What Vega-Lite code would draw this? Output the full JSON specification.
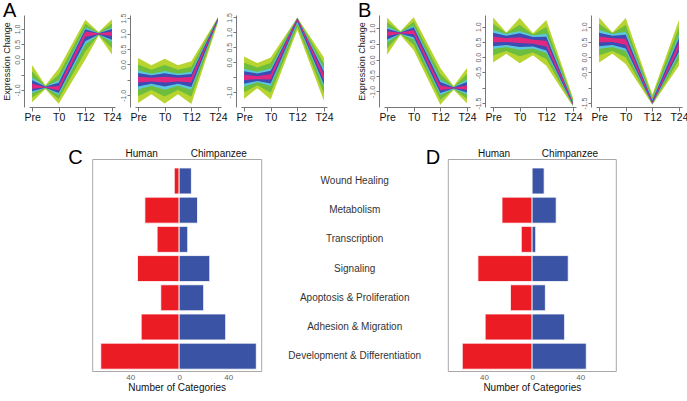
{
"$schema":"https://vega.github.io/schema/vega-lite/v6.json",
"padding":{"left":2,"top":1,"right":0,"bottom":0},
"background":"white",
"config":{"font":"Liberation Sans","view":{"stroke":null},"axis":{"grid":false}},
"datasets":{
"bands":[
{"p":"A1","t":1,"o1":-1.40,"o2":-0.18,"g1":-1.25,"g2":-0.39,"c1":-1.10,"c2":-0.59,"b1":-1.04,"b2":-0.68,"m1":-0.96,"m2":-0.80},
{"p":"A1","t":2,"o1":-0.97,"o2":-0.85,"g1":-0.95,"g2":-0.87,"c1":-0.94,"c2":-0.88,"b1":-0.93,"b2":-0.89,"m1":-0.92,"m2":-0.90},
{"p":"A1","t":3,"o1":-1.45,"o2":-0.30,"g1":-1.30,"g2":-0.50,"c1":-1.16,"c2":-0.68,"b1":-1.10,"b2":-0.76,"m1":-1.02,"m2":-0.87},
{"p":"A1","t":5,"o1":0.00,"o2":1.30,"g1":0.26,"g2":1.17,"c1":0.50,"c2":1.05,"b1":0.60,"b2":0.99,"m1":0.75,"m2":0.92},
{"p":"A1","t":6,"o1":0.78,"o2":0.90,"g1":0.80,"g2":0.88,"c1":0.81,"c2":0.87,"b1":0.82,"b2":0.86,"m1":0.83,"m2":0.85},
{"p":"A1","t":7,"o1":0.16,"o2":1.32,"g1":0.37,"g2":1.18,"c1":0.57,"c2":1.05,"b1":0.65,"b2":1.00,"m1":0.77,"m2":0.92},
{"p":"A2","t":1,"o1":-1.25,"o2":0.21,"g1":-1.02,"g2":0.00,"c1":-0.81,"c2":-0.20,"b1":-0.72,"b2":-0.28,"m1":-0.59,"m2":-0.40},
{"p":"A2","t":2,"o1":-0.97,"o2":-0.03,"g1":-0.83,"g2":-0.17,"c1":-0.69,"c2":-0.30,"b1":-0.63,"b2":-0.35,"m1":-0.55,"m2":-0.43},
{"p":"A2","t":3,"o1":-1.27,"o2":0.18,"g1":-1.04,"g2":-0.02,"c1":-0.82,"c2":-0.21,"b1":-0.72,"b2":-0.29,"m1":-0.59,"m2":-0.40},
{"p":"A2","t":4,"o1":-0.97,"o2":-0.03,"g1":-0.83,"g2":-0.17,"c1":-0.69,"c2":-0.30,"b1":-0.63,"b2":-0.35,"m1":-0.55,"m2":-0.43},
{"p":"A2","t":5,"o1":-1.28,"o2":0.10,"g1":-1.04,"g2":-0.08,"c1":-0.82,"c2":-0.24,"b1":-0.73,"b2":-0.31,"m1":-0.59,"m2":-0.41},
{"p":"A2","t":7,"o1":1.35,"o2":1.53,"g1":1.39,"g2":1.52,"c1":1.43,"c2":1.50,"b1":1.44,"b2":1.50,"m1":1.46,"m2":1.49},
{"p":"A3","t":1,"o1":-1.22,"o2":0.19,"g1":-1.01,"g2":-0.02,"c1":-0.81,"c2":-0.22,"b1":-0.72,"b2":-0.30,"m1":-0.60,"m2":-0.42},
{"p":"A3","t":2,"o1":-0.87,"o2":-0.03,"g1":-0.77,"g2":-0.18,"c1":-0.67,"c2":-0.32,"b1":-0.63,"b2":-0.38,"m1":-0.57,"m2":-0.47},
{"p":"A3","t":3,"o1":-1.25,"o2":0.16,"g1":-1.02,"g2":-0.03,"c1":-0.80,"c2":-0.21,"b1":-0.71,"b2":-0.29,"m1":-0.58,"m2":-0.40},
{"p":"A3","t":5,"o1":1.08,"o2":1.50,"g1":1.19,"g2":1.49,"c1":1.30,"c2":1.48,"b1":1.35,"b2":1.47,"m1":1.41,"m2":1.47},
{"p":"A3","t":7,"o1":-1.30,"o2":0.16,"g1":-1.06,"g2":-0.04,"c1":-0.84,"c2":-0.23,"b1":-0.75,"b2":-0.31,"m1":-0.61,"m2":-0.42},
{"p":"B1","t":1,"o1":0.16,"o2":1.32,"g1":0.36,"g2":1.18,"c1":0.55,"c2":1.04,"b1":0.64,"b2":0.98,"m1":0.75,"m2":0.90},
{"p":"B1","t":2,"o1":0.78,"o2":0.90,"g1":0.80,"g2":0.88,"c1":0.81,"c2":0.87,"b1":0.82,"b2":0.86,"m1":0.83,"m2":0.85},
{"p":"B1","t":3,"o1":0.30,"o2":1.34,"g1":0.47,"g2":1.20,"c1":0.64,"c2":1.07,"b1":0.71,"b2":1.02,"m1":0.80,"m2":0.94},
{"p":"B1","t":5,"o1":-1.42,"o2":-0.26,"g1":-1.26,"g2":-0.45,"c1":-1.11,"c2":-0.63,"b1":-1.05,"b2":-0.70,"m1":-0.96,"m2":-0.81},
{"p":"B1","t":6,"o1":-0.95,"o2":-0.83,"g1":-0.93,"g2":-0.85,"c1":-0.92,"c2":-0.86,"b1":-0.91,"b2":-0.87,"m1":-0.90,"m2":-0.88},
{"p":"B1","t":7,"o1":-1.37,"o2":-0.26,"g1":-1.23,"g2":-0.45,"c1":-1.09,"c2":-0.63,"b1":-1.03,"b2":-0.70,"m1":-0.95,"m2":-0.81},
{"p":"B2","t":1,"o1":-0.17,"o2":1.30,"g1":0.06,"g2":1.09,"c1":0.27,"c2":0.89,"b1":0.36,"b2":0.80,"m1":0.49,"m2":0.68},
{"p":"B2","t":2,"o1":0.11,"o2":0.81,"g1":0.20,"g2":0.79,"c1":0.33,"c2":0.76,"b1":0.40,"b2":0.70,"m1":0.50,"m2":0.62},
{"p":"B2","t":3,"o1":-0.20,"o2":1.28,"g1":0.03,"g2":1.06,"c1":0.24,"c2":0.86,"b1":0.33,"b2":0.78,"m1":0.46,"m2":0.65},
{"p":"B2","t":4,"o1":0.06,"o2":0.78,"g1":0.15,"g2":0.74,"c1":0.28,"c2":0.71,"b1":0.35,"b2":0.66,"m1":0.44,"m2":0.57},
{"p":"B2","t":5,"o1":-0.28,"o2":1.22,"g1":-0.06,"g2":0.99,"c1":0.14,"c2":0.77,"b1":0.22,"b2":0.67,"m1":0.35,"m2":0.54},
{"p":"B2","t":7,"o1":-1.61,"o2":-1.33,"g1":-1.59,"g2":-1.39,"c1":-1.57,"c2":-1.45,"b1":-1.56,"b2":-1.48,"m1":-1.55,"m2":-1.51},
{"p":"B3","t":1,"o1":-0.17,"o2":1.30,"g1":0.06,"g2":1.09,"c1":0.27,"c2":0.89,"b1":0.36,"b2":0.80,"m1":0.49,"m2":0.68},
{"p":"B3","t":2,"o1":0.11,"o2":0.81,"g1":0.20,"g2":0.79,"c1":0.33,"c2":0.76,"b1":0.40,"b2":0.70,"m1":0.50,"m2":0.62},
{"p":"B3","t":3,"o1":-0.22,"o2":1.28,"g1":0.00,"g2":1.05,"c1":0.20,"c2":0.83,"b1":0.28,"b2":0.73,"m1":0.41,"m2":0.60},
{"p":"B3","t":5,"o1":-1.56,"o2":-1.22,"g1":-1.54,"g2":-1.30,"c1":-1.53,"c2":-1.38,"b1":-1.52,"b2":-1.42,"m1":-1.51,"m2":-1.46},
{"p":"B3","t":7,"o1":-0.28,"o2":1.22,"g1":-0.09,"g2":0.97,"c1":0.10,"c2":0.73,"b1":0.18,"b2":0.63,"m1":0.29,"m2":0.48}
],
"cats":[
{"panel":"C","category":"Wound Healing","species":"Human","value":-4},
{"panel":"C","category":"Wound Healing","species":"Chimpanzee","value":10},
{"panel":"C","category":"Metabolism","species":"Human","value":-28},
{"panel":"C","category":"Metabolism","species":"Chimpanzee","value":15},
{"panel":"C","category":"Transcription","species":"Human","value":-18},
{"panel":"C","category":"Transcription","species":"Chimpanzee","value":7},
{"panel":"C","category":"Signaling","species":"Human","value":-34},
{"panel":"C","category":"Signaling","species":"Chimpanzee","value":25},
{"panel":"C","category":"Apoptosis & Proliferation","species":"Human","value":-15},
{"panel":"C","category":"Apoptosis & Proliferation","species":"Chimpanzee","value":20},
{"panel":"C","category":"Adhesion & Migration","species":"Human","value":-31},
{"panel":"C","category":"Adhesion & Migration","species":"Chimpanzee","value":38},
{"panel":"C","category":"Development & Differentiation","species":"Human","value":-64},
{"panel":"C","category":"Development & Differentiation","species":"Chimpanzee","value":63},
{"panel":"D","category":"Wound Healing","species":"Human","value":0},
{"panel":"D","category":"Wound Healing","species":"Chimpanzee","value":10},
{"panel":"D","category":"Metabolism","species":"Human","value":-25},
{"panel":"D","category":"Metabolism","species":"Chimpanzee","value":20},
{"panel":"D","category":"Transcription","species":"Human","value":-9},
{"panel":"D","category":"Transcription","species":"Chimpanzee","value":3},
{"panel":"D","category":"Signaling","species":"Human","value":-45},
{"panel":"D","category":"Signaling","species":"Chimpanzee","value":30},
{"panel":"D","category":"Apoptosis & Proliferation","species":"Human","value":-18},
{"panel":"D","category":"Apoptosis & Proliferation","species":"Chimpanzee","value":11},
{"panel":"D","category":"Adhesion & Migration","species":"Human","value":-39},
{"panel":"D","category":"Adhesion & Migration","species":"Chimpanzee","value":27},
{"panel":"D","category":"Development & Differentiation","species":"Human","value":-58},
{"panel":"D","category":"Development & Differentiation","species":"Chimpanzee","value":45}
]
},
"vconcat":[
{"hconcat":[
{"width":86,"height":92,
"title":{"text":"A","anchor":"start","frame":"group","fontSize":20,"fontWeight":"normal","color":"#000","dx":-26,"offset":-6},
"data":{"name":"bands"},"transform":[{"filter":"datum.p==='A1'"}],
"encoding":{"x":{"field":"t","type":"quantitative","scale":{"domain":[0.77,7.23],"nice":false,"zero":false},"axis":{"values":[1,3,5,7],"labelExpr":"datum.value==1?'Pre':datum.value==3?'T0':datum.value==5?'T12':'T24'","title":null,"labelFontSize":10.5,"labelColor":"#111","tickSize":4,"tickColor":"#777","domainColor":"#777","labelPadding":1,"labelFlush":false,"labelOverlap":false}}},
"layer":[
{"mark":{"type":"area","color":"#b8d430"},"encoding":{"y":{"field":"o1","type":"quantitative","scale":{"domain":[-1.56,1.46],"nice":false,"zero":false},"axis":{"values":[-1,-0.5,0,0.5,1],"labelExpr":"datum.value==-0.5?'':replace(format(datum.value,'.1f'),'−','-')","labelAngle":270,"labelFontSize":7,"labelColor":"#666","tickSize":3,"tickColor":"#777","domainColor":"#777","offset":5,"labelPadding":1,"labelFlush":false,"labelOverlap":false,"title":"Expression Change","titleFontSize":9,"titleFontWeight":"normal","titleColor":"#222","titlePadding":2}},"y2":{"field":"o2"}}},
{"mark":{"type":"area","color":"#6dbd3e"},"encoding":{"y":{"field":"g1","type":"quantitative","axis":null},"y2":{"field":"g2"}}},
{"mark":{"type":"area","color":"#5cc6dc"},"encoding":{"y":{"field":"c1","type":"quantitative","axis":null},"y2":{"field":"c2"}}},
{"mark":{"type":"area","color":"#3b4db3"},"encoding":{"y":{"field":"b1","type":"quantitative","axis":null},"y2":{"field":"b2"}}},
{"mark":{"type":"area","color":"#e0287e"},"encoding":{"y":{"field":"m1","type":"quantitative","axis":null},"y2":{"field":"m2"}}}
],
"resolve":{"axis":{"y":"independent"}}},
{"width":86,"height":92,
"data":{"name":"bands"},"transform":[{"filter":"datum.p==='A2'"}],
"encoding":{"x":{"field":"t","type":"quantitative","scale":{"domain":[0.77,7.23],"nice":false,"zero":false},"axis":{"values":[1,3,5,7],"labelExpr":"datum.value==1?'Pre':datum.value==3?'T0':datum.value==5?'T12':'T24'","title":null,"labelFontSize":10.5,"labelColor":"#111","tickSize":4,"tickColor":"#777","domainColor":"#777","labelPadding":1,"labelFlush":false,"labelOverlap":false}}},
"layer":[
{"mark":{"type":"area","color":"#b8d430"},"encoding":{"y":{"field":"o1","type":"quantitative","scale":{"domain":[-1.38,1.6],"nice":false,"zero":false},"axis":{"values":[-1,-0.5,0,0.5,1,1.5],"labelExpr":"datum.value==-0.5?'':replace(format(datum.value,'.1f'),'−','-')","labelAngle":270,"labelFontSize":7,"labelColor":"#666","tickSize":3,"tickColor":"#777","domainColor":"#777","offset":5,"labelPadding":1,"labelFlush":false,"labelOverlap":false,"title":null}},"y2":{"field":"o2"}}},
{"mark":{"type":"area","color":"#6dbd3e"},"encoding":{"y":{"field":"g1","type":"quantitative","axis":null},"y2":{"field":"g2"}}},
{"mark":{"type":"area","color":"#5cc6dc"},"encoding":{"y":{"field":"c1","type":"quantitative","axis":null},"y2":{"field":"c2"}}},
{"mark":{"type":"area","color":"#3b4db3"},"encoding":{"y":{"field":"b1","type":"quantitative","axis":null},"y2":{"field":"b2"}}},
{"mark":{"type":"area","color":"#e0287e"},"encoding":{"y":{"field":"m1","type":"quantitative","axis":null},"y2":{"field":"m2"}}}
],
"resolve":{"axis":{"y":"independent"}}},
{"width":86,"height":92,
"data":{"name":"bands"},"transform":[{"filter":"datum.p==='A3'"}],
"encoding":{"x":{"field":"t","type":"quantitative","scale":{"domain":[0.77,7.23],"nice":false,"zero":false},"axis":{"values":[1,3,5,7],"labelExpr":"datum.value==1?'Pre':datum.value==3?'T0':datum.value==5?'T12':'T24'","title":null,"labelFontSize":10.5,"labelColor":"#111","tickSize":4,"tickColor":"#777","domainColor":"#777","labelPadding":1,"labelFlush":false,"labelOverlap":false}}},
"layer":[
{"mark":{"type":"area","color":"#b8d430"},"encoding":{"y":{"field":"o1","type":"quantitative","scale":{"domain":[-1.5,1.58],"nice":false,"zero":false},"axis":{"values":[-1,-0.5,0,0.5,1,1.5],"labelExpr":"datum.value==-0.5?'':replace(format(datum.value,'.1f'),'−','-')","labelAngle":270,"labelFontSize":7,"labelColor":"#666","tickSize":3,"tickColor":"#777","domainColor":"#777","offset":5,"labelPadding":1,"labelFlush":false,"labelOverlap":false,"title":null}},"y2":{"field":"o2"}}},
{"mark":{"type":"area","color":"#6dbd3e"},"encoding":{"y":{"field":"g1","type":"quantitative","axis":null},"y2":{"field":"g2"}}},
{"mark":{"type":"area","color":"#5cc6dc"},"encoding":{"y":{"field":"c1","type":"quantitative","axis":null},"y2":{"field":"c2"}}},
{"mark":{"type":"area","color":"#3b4db3"},"encoding":{"y":{"field":"b1","type":"quantitative","axis":null},"y2":{"field":"b2"}}},
{"mark":{"type":"area","color":"#e0287e"},"encoding":{"y":{"field":"m1","type":"quantitative","axis":null},"y2":{"field":"m2"}}}
],
"resolve":{"axis":{"y":"independent"}}},
{"width":17,"height":92,"data":{"values":[{"s":""}]},"mark":"text","encoding":{"text":{"field":"s"}}},
{"width":86,"height":92,
"title":{"text":"B","anchor":"start","frame":"group","fontSize":20,"fontWeight":"normal","color":"#000","dx":-26,"offset":-6},
"data":{"name":"bands"},"transform":[{"filter":"datum.p==='B1'"}],
"encoding":{"x":{"field":"t","type":"quantitative","scale":{"domain":[0.77,7.23],"nice":false,"zero":false},"axis":{"values":[1,3,5,7],"labelExpr":"datum.value==1?'Pre':datum.value==3?'T0':datum.value==5?'T12':'T24'","title":null,"labelFontSize":10.5,"labelColor":"#111","tickSize":4,"tickColor":"#777","domainColor":"#777","labelPadding":1,"labelFlush":false,"labelOverlap":false}}},
"layer":[
{"mark":{"type":"area","color":"#b8d430"},"encoding":{"y":{"field":"o1","type":"quantitative","scale":{"domain":[-1.49,1.41],"nice":false,"zero":false},"axis":{"values":[-1,-0.5,0,0.5,1],"labelExpr":"replace(format(datum.value,'.1f'),'−','-')","labelAngle":270,"labelFontSize":7,"labelColor":"#666","tickSize":3,"tickColor":"#777","domainColor":"#777","offset":5,"labelPadding":1,"labelFlush":false,"labelOverlap":false,"title":"Expression Change","titleFontSize":9,"titleFontWeight":"normal","titleColor":"#222","titlePadding":2}},"y2":{"field":"o2"}}},
{"mark":{"type":"area","color":"#6dbd3e"},"encoding":{"y":{"field":"g1","type":"quantitative","axis":null},"y2":{"field":"g2"}}},
{"mark":{"type":"area","color":"#5cc6dc"},"encoding":{"y":{"field":"c1","type":"quantitative","axis":null},"y2":{"field":"c2"}}},
{"mark":{"type":"area","color":"#3b4db3"},"encoding":{"y":{"field":"b1","type":"quantitative","axis":null},"y2":{"field":"b2"}}},
{"mark":{"type":"area","color":"#e0287e"},"encoding":{"y":{"field":"m1","type":"quantitative","axis":null},"y2":{"field":"m2"}}}
],
"resolve":{"axis":{"y":"independent"}}},
{"width":86,"height":92,
"data":{"name":"bands"},"transform":[{"filter":"datum.p==='B2'"}],
"encoding":{"x":{"field":"t","type":"quantitative","scale":{"domain":[0.77,7.23],"nice":false,"zero":false},"axis":{"values":[1,3,5,7],"labelExpr":"datum.value==1?'Pre':datum.value==3?'T0':datum.value==5?'T12':'T24'","title":null,"labelFontSize":10.5,"labelColor":"#111","tickSize":4,"tickColor":"#777","domainColor":"#777","labelPadding":1,"labelFlush":false,"labelOverlap":false}}},
"layer":[
{"mark":{"type":"area","color":"#b8d430"},"encoding":{"y":{"field":"o1","type":"quantitative","scale":{"domain":[-1.63,1.38],"nice":false,"zero":false},"axis":{"values":[-1.5,-1,-0.5,0,0.5,1],"labelExpr":"datum.value==-1?'':replace(format(datum.value,'.1f'),'−','-')","labelAngle":270,"labelFontSize":7,"labelColor":"#666","tickSize":3,"tickColor":"#777","domainColor":"#777","offset":5,"labelPadding":1,"labelFlush":false,"labelOverlap":false,"title":null}},"y2":{"field":"o2"}}},
{"mark":{"type":"area","color":"#6dbd3e"},"encoding":{"y":{"field":"g1","type":"quantitative","axis":null},"y2":{"field":"g2"}}},
{"mark":{"type":"area","color":"#5cc6dc"},"encoding":{"y":{"field":"c1","type":"quantitative","axis":null},"y2":{"field":"c2"}}},
{"mark":{"type":"area","color":"#3b4db3"},"encoding":{"y":{"field":"b1","type":"quantitative","axis":null},"y2":{"field":"b2"}}},
{"mark":{"type":"area","color":"#e0287e"},"encoding":{"y":{"field":"m1","type":"quantitative","axis":null},"y2":{"field":"m2"}}}
],
"resolve":{"axis":{"y":"independent"}}},
{"width":86,"height":92,
"data":{"name":"bands"},"transform":[{"filter":"datum.p==='B3'"}],
"encoding":{"x":{"field":"t","type":"quantitative","scale":{"domain":[0.77,7.23],"nice":false,"zero":false},"axis":{"values":[1,3,5,7],"labelExpr":"datum.value==1?'Pre':datum.value==3?'T0':datum.value==5?'T12':'T24'","title":null,"labelFontSize":10.5,"labelColor":"#111","tickSize":4,"tickColor":"#777","domainColor":"#777","labelPadding":1,"labelFlush":false,"labelOverlap":false}}},
"layer":[
{"mark":{"type":"area","color":"#b8d430"},"encoding":{"y":{"field":"o1","type":"quantitative","scale":{"domain":[-1.63,1.38],"nice":false,"zero":false},"axis":{"values":[-1.5,-1,-0.5,0,0.5,1],"labelExpr":"datum.value==-1?'':replace(format(datum.value,'.1f'),'−','-')","labelAngle":270,"labelFontSize":7,"labelColor":"#666","tickSize":3,"tickColor":"#777","domainColor":"#777","offset":5,"labelPadding":1,"labelFlush":false,"labelOverlap":false,"title":null}},"y2":{"field":"o2"}}},
{"mark":{"type":"area","color":"#6dbd3e"},"encoding":{"y":{"field":"g1","type":"quantitative","axis":null},"y2":{"field":"g2"}}},
{"mark":{"type":"area","color":"#5cc6dc"},"encoding":{"y":{"field":"c1","type":"quantitative","axis":null},"y2":{"field":"c2"}}},
{"mark":{"type":"area","color":"#3b4db3"},"encoding":{"y":{"field":"b1","type":"quantitative","axis":null},"y2":{"field":"b2"}}},
{"mark":{"type":"area","color":"#e0287e"},"encoding":{"y":{"field":"m1","type":"quantitative","axis":null},"y2":{"field":"m2"}}}
],
"resolve":{"axis":{"y":"independent"}}}
],"spacing":20,"bounds":"flush"},
{"hconcat":[
{"width":169,"height":212,"view":{"stroke":"#a8a8a8"},
"title":{"text":"C","anchor":"start","frame":"group","fontSize":20,"fontWeight":"normal","color":"#000","dx":-24,"offset":-20},
"data":{"name":"cats"},"transform":[{"filter":"datum.panel==='C'"}],
"encoding":{"y":{"field":"category","type":"nominal","sort":["Wound Healing","Metabolism","Transcription","Signaling","Apoptosis & Proliferation","Adhesion & Migration","Development & Differentiation"],"scale":{"paddingInner":0.11,"paddingOuter":0.185,"align":0.83},"axis":{"orient":"right","title":null,"ticks":false,"domain":false,"labelAlign":"center","labelPadding":93,"labelFontSize":10,"labelColor":"#333"}}},
"layer":[
{"mark":{"type":"bar","stroke":"white","strokeWidth":0.8},"encoding":{"x":{"field":"value","type":"quantitative","scale":{"domain":[-71,67],"nice":false,"zero":false},"axis":{"values":[-40,0,40],"labelExpr":"''+abs(datum.value)","ticks":false,"domain":false,"labelFontSize":8,"labelColor":"#666","labelPadding":2,"title":"Number of Categories","titleFontSize":10,"titleFontWeight":"normal","titleColor":"#111","titlePadding":1}},"color":{"field":"species","type":"nominal","scale":{"domain":["Human","Chimpanzee"],"range":["#ec1c24","#3a53a4"]},"legend":null}}},
{"mark":{"type":"point","opacity":0},"encoding":{"x":{"field":"value","type":"quantitative","axis":{"orient":"top","values":[-31,32],"labelExpr":"datum.value<0?'Human':'Chimpanzee'","title":null,"ticks":false,"domain":false,"labelFontSize":10,"labelColor":"#111","labelPadding":1}}}}
],
"resolve":{"axis":{"x":"independent"}}},
{"width":168,"height":212,"view":{"stroke":"#a8a8a8"},
"title":{"text":"D","anchor":"start","frame":"group","fontSize":20,"fontWeight":"normal","color":"#000","dx":-22,"offset":-20},
"data":{"name":"cats"},"transform":[{"filter":"datum.panel==='D'"}],
"encoding":{"y":{"field":"category","type":"nominal","sort":["Wound Healing","Metabolism","Transcription","Signaling","Apoptosis & Proliferation","Adhesion & Migration","Development & Differentiation"],"scale":{"paddingInner":0.11,"paddingOuter":0.185,"align":0.83},"axis":{"orient":"right","title":null,"labels":false,"domain":false,"ticks":true,"tickSize":8,"tickColor":"rgba(255,255,255,0)"}}},
"layer":[
{"mark":{"type":"bar","stroke":"white","strokeWidth":0.8},"encoding":{"x":{"field":"value","type":"quantitative","scale":{"domain":[-70,69.5],"nice":false,"zero":false},"axis":{"values":[-40,0,40],"labelExpr":"''+abs(datum.value)","ticks":false,"domain":false,"labelFontSize":8,"labelColor":"#666","labelPadding":2,"title":"Number of Categories","titleFontSize":10,"titleFontWeight":"normal","titleColor":"#111","titlePadding":1}},"color":{"field":"species","type":"nominal","scale":{"domain":["Human","Chimpanzee"],"range":["#ec1c24","#3a53a4"]},"legend":null}}},
{"mark":{"type":"point","opacity":0},"encoding":{"x":{"field":"value","type":"quantitative","axis":{"orient":"top","values":[-32,31],"labelExpr":"datum.value<0?'Human':'Chimpanzee'","title":null,"ticks":false,"domain":false,"labelFontSize":10,"labelColor":"#111","labelPadding":1}}}}
],
"resolve":{"axis":{"x":"independent"}}}
],"spacing":186.6,"bounds":"flush"}
],
"spacing":24,
"center":true
}
